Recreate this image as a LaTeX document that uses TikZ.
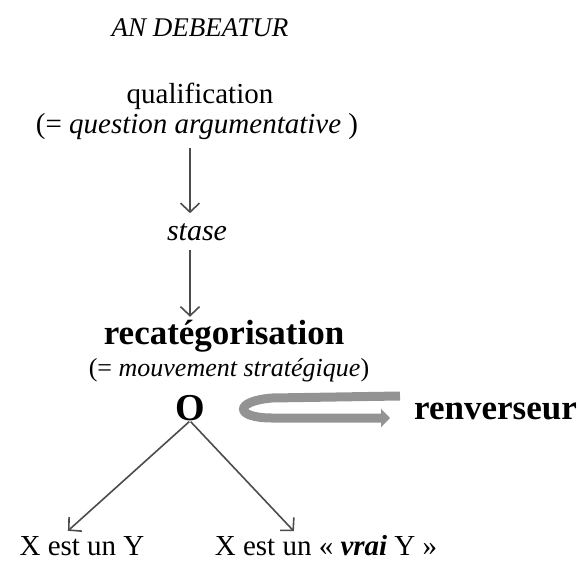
\documentclass[tikz,border=0pt]{standalone}
\usepackage{fontspec}
\setmainfont{Liberation Serif}[
  ItalicFont={Liberation Serif Italic},
  BoldFont={Liberation Serif Bold},
  BoldItalicFont={Liberation Serif Bold Italic}]
\usetikzlibrary{arrows.meta}

\begin{document}
\begin{tikzpicture}
\tikzset{
x=1pt, y=1pt,
txt/.style={inner sep=0pt, font=\fontsize{29}{34}\selectfont},
big/.style={inner sep=0pt, font=\fontsize{35}{40}\selectfont\bfseries},
arr/.style={draw=gray!60!black, line width=1.6pt, -{Straight Barb[length=9pt,width=19pt]}},
swirl/.style={draw=gray!85, line width=9pt, -{Triangle[length=9pt,width=18pt]}}
}

	% frame
	\useasboundingbox (0,0) rectangle (578,-565);

	\node[txt, font=\fontsize{27}{32}\selectfont\itshape] at (200,-28) (an) {AN DEBEATUR};
	\node[txt] at (200,-96) (qual) {qualification};
	\node[txt] at (197,-127) (quest) {(= \textit{question argumentative} )};
	\node[txt, font=\fontsize{30}{34}\selectfont\itshape] at (197,-232) (stase) {stase};
	\node[big] at (224,-336) (recat) {recatégorisation};
	\node[txt, font=\fontsize{26}{30}\selectfont] at (229,-370) (mouv) {(= \textit{mouvement stratégique})};
	\node[txt, font=\fontsize{38}{40}\selectfont\bfseries] at (190,-408) (o) {O};
	\node[big, anchor=west] at (414,-411) (renv) {renverseur};
	\node[txt] at (82,-546) (xy) {X est un Y};
	\node[txt] at (326,-546) (vrai) {X est un « \textbf{\textit{vrai}} Y »};

	\draw[arr, shorten <=8pt, shorten >=10pt] (quest.south -| o) -- (stase.north -| o);
	\draw[arr, shorten <=9pt, shorten >=3pt] (stase.south -| o) -- (recat.north -| o);
	\draw[arr, shorten <=1pt, shorten >=8pt] (o.south) -- ([xshift=-20pt]xy.north);
	\draw[arr, shorten <=1pt, shorten >=6pt] (o.south) -- ([xshift=-28pt]vrai.north);

	\draw[swirl] (400,-396) -- (272,-398) .. controls (234,-401) and (234,-418) .. (272,-418) -- (390,-418);

\end{tikzpicture}
\end{document}
